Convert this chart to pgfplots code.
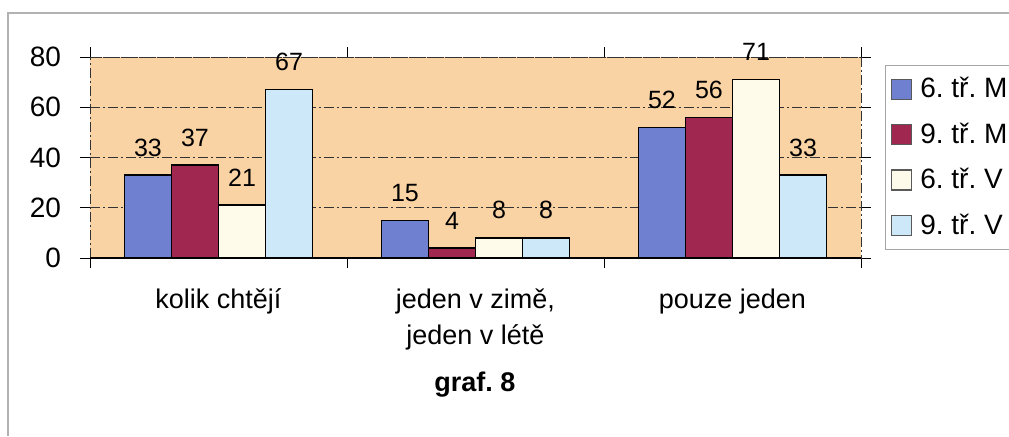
\documentclass[border=0pt]{standalone}
\usepackage{pgfplots}
\pgfplotsset{compat=1.18}
\usepackage{fontspec}
\setmainfont{Liberation Sans}
\frenchspacing

\definecolor{mblue}{RGB}{112,128,208}
\definecolor{mred}{RGB}{160,40,80}
\definecolor{vcream}{RGB}{255,251,234}
\definecolor{vblue}{RGB}{205,232,248}
\definecolor{peach}{RGB}{250,211,165}

\pgfplotstableread{
x  m6 m9 v6 v9
0  33 37 21 67
1  15 4  8  8
2  52 56 71 33
}\grafdata

\begin{document}
\begin{tikzpicture}
  % 1px of the reference = 0.5pt
  \useasboundingbox (-45pt,-89pt) rectangle (459.5pt,129pt);
  \clip (-45pt,-89pt) rectangle (459.5pt,129pt);
  \draw[gray!60, line width=0.8pt] (-41pt,-89pt) -- (-41pt,122.5pt) -- (459.5pt,122.5pt);
  \begin{axis}[
      at={(0pt,0pt)}, anchor=south west,
      scale only axis,
      width=385.5pt, height=100.5pt,
      ybar=0pt, bar width=0.183,
      xmin=-0.5, xmax=2.5,
      ymin=0, ymax=80,
      ytick={0,20,40,60,80},
      xtick={-0.5,0.5,1.5,2.5},
      x tick label as interval,
      xticklabels={kolik chtějí, {jeden v zimě,\\ jeden v létě}, pouze jeden},
      xticklabel style={align=center, yshift=-7pt, font=\fontsize{13.5}{18}\selectfont},
      yticklabel style={xshift=-6pt, font=\fontsize{14}{16}\selectfont},
      /pgf/number format/assume math mode=true,
      tick align=outside, major tick length=5pt,
      tick style={black, thin},
      axis background/.style={fill=peach},
      axis line style={black!80, dash pattern=on 5pt off 1.5pt on 1pt off 1.5pt},
      ymajorgrids,
      grid style={black!80, thin, dash pattern=on 5pt off 1.5pt on 1pt off 1.5pt},
      clip=false,
      nodes near coords,
      every node near coord/.append style={font=\fontsize{12.5}{14}\selectfont, inner sep=0pt, yshift=9pt, black},
      area legend,
      legend image code/.code={\draw[#1, draw=gray!70!black, line width=0.6pt] (0pt,-5pt) rectangle (10pt,5pt); \path (12pt,0pt);},
      legend cell align=left,
      legend style={at={(1.0305,0.960)}, anchor=north west, draw=gray!70,
        font=\fontsize{14}{16}\selectfont, row sep=7pt, inner xsep=3pt, inner ysep=4pt},
    ]
    \addplot[fill=mblue, draw=black, line width=0.8pt] table[x=x, y=m6] {\grafdata};
    \addplot[fill=mred, draw=black, line width=0.8pt] table[x=x, y=m9] {\grafdata};
    \addplot[fill=vcream, draw=black, line width=0.8pt] table[x=x, y=v6] {\grafdata};
    \addplot[fill=vblue, draw=black, line width=0.8pt] table[x=x, y=v9] {\grafdata};
    \legend{6. tř. M, 9. tř. M, 6. tř. V, 9. tř. V}
    \draw[black, line width=0.9pt] (axis cs:-0.5,0) -- (axis cs:2.5,0);
  \end{axis}
  \node[font=\bfseries\fontsize{13.5}{15}\selectfont] at (192.5pt,-63.5pt) {graf. 8};
\end{tikzpicture}
\end{document}
